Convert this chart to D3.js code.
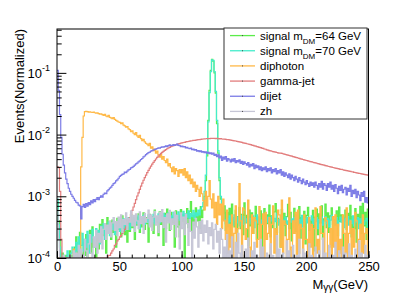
<!DOCTYPE html>
<html>
<head>
<meta charset="utf-8">
<script src="https://cdn.jsdelivr.net/npm/d3@7"></script>
<style>
    body { margin: 0; background: #fff; }
    text { font-family: "Liberation Sans", Arial, Helvetica, sans-serif; fill: #000; }
</style>
</head>
<body>
<div id="chart"></div>
<script>
// bin contents in units of 1e-4, one value per 1 GeV bin from 0 to 250 GeV
const UNIT = 1e-4;
const binLow = d3.range(0, 250);
const xTicks = [0, 50, 100, 150, 200, 250];
const xMinor = d3.range(0, 251, 10);
const yDecades = [1e-4, 1e-3, 1e-2, 1e-1];
const yExponents = ["-4", "-3", "-2", "-1"];

const signal64 = [
    8, 4, 2, 0, 1.2, 0, 0, 1.1, 0, 0,
    1.3, 0, 1.1, 0, 1.5, 2.2, 0, 1.4, 2.6, 1.2,
    0, 1.8, 1.1, 2.4, 0, 1.6, 2.8, 1.2, 3.2, 1.5,
    2.1, 0, 2.6, 1.4, 3.5, 1.8, 4.2, 2.3, 3.6, 1.2,
    4.5, 2.8, 3.8, 2.0, 4.1, 2.6, 3.3, 1.5, 4.4, 2.9,
    3.6, 2.2, 4.8, 3.0, 2.4, 4.2, 1.8, 3.9, 2.7, 5.0,
    3.1, 4.3, 2.0, 4.6, 3.4, 5.2, 2.6, 4.0, 3.2, 5.4,
    2.9, 4.5, 3.6, 1.8, 5.1, 3.3, 4.7, 2.5, 6.0, 3.8,
    4.4, 2.3, 5.6, 3.5, 4.9, 1.6, 5.3, 3.0, 6.2, 4.1,
    2.8, 5.5, 3.7, 4.6, 1.5, 5.8, 3.2, 4.8, 2.2, 6.1,
    3.9, 5.0, 0.9, 4.4, 6.3, 3.1, 5.7, 8.2, 2.6, 4.9,
    3.4, 6.5, 4.0, 5.2, 3.0, 6.8, 4.5, 6, 10, 18,
    45, 170, 520, 1100, 1650, 1550, 1000, 470, 150, 50,
    18, 9, 6, 4.2, 7.0, 2.8, 5.5, 3.6, 6.4, 2.1,
    7.5, 4.0, 3.2, 5.9, 1.8, 4.7, 6.6, 3.0, 5.1, 2.4,
    7.8, 3.7, 4.9, 1.6, 6.0, 3.3, 5.4, 2.5, 4.3, 6.9,
    2.0, 4.6, 3.5, 5.8, 1.4, 4.2, 6.3, 2.9, 5.0, 3.6,
    7.2, 2.2, 4.8, 3.1, 5.6, 7.6, 2.6, 4.4, 3.8, 1.5,
    6.1, 3.4, 5.3, 2.3, 4.7, 7.4, 3.0, 5.5, 1.9, 4.1,
    6.4, 2.7, 5.0, 3.5, 6.8, 2.1, 4.5, 3.2, 5.7, 1.7,
    4.9, 6.6, 2.8, 4.0, 3.3, 5.9, 1.3, 4.6, 6.2, 2.4,
    5.2, 3.7, 7.0, 2.0, 4.3, 7.5, 3.1, 5.4, 2.6, 4.8,
    6.5, 1.6, 4.0, 3.4, 5.8, 2.3, 6.7, 3.9, 5.0, 1.4,
    4.4, 6.0, 2.9, 5.3, 3.6, 7.1, 2.2, 4.7, 3.0, 6.3,
    1.8, 5.1, 3.8, 6.9, 2.5, 7.7, 3.3, 5.5, 2.0, 6.2
];

const signal70 = [
    9, 3.5, 1.5, 0, 0, 1.1, 0, 0, 1.3, 0,
    0, 1.2, 1.5, 0, 1.1, 1.8, 1.3, 2.2, 1.0, 1.6,
    2.5, 1.3, 2.0, 1.5, 2.7, 1.2, 2.3, 1.8, 2.9, 2.1,
    1.5, 3.0, 2.2, 2.8, 1.7, 3.3, 2.5, 3.6, 2.0, 3.1,
    2.6, 3.8, 2.3, 3.4, 2.9, 4.0, 2.4, 3.5, 3.0, 4.2,
    2.7, 3.7, 3.1, 4.3, 2.8, 3.9, 3.3, 4.5, 2.9, 4.0,
    3.4, 4.6, 3.2, 4.1, 3.6, 4.8, 3.0, 4.4, 3.7, 4.9,
    3.5, 4.3, 3.8, 5.0, 3.4, 4.6, 3.9, 5.1, 3.6, 4.7,
    4.0, 5.2, 3.7, 4.5, 4.1, 5.3, 3.8, 4.9, 4.2, 5.4,
    3.9, 4.8, 4.3, 5.5, 4.0, 5.0, 4.4, 5.6, 4.1, 5.1,
    4.5, 5.7, 4.2, 5.2, 4.6, 5.8, 4.3, 5.3, 4.7, 5.9,
    4.4, 5.4, 4.8, 6.0, 5.0, 6.2, 6.8, 8, 12, 22,
    50, 160, 480, 1050, 1620, 1600, 1050, 500, 170, 55,
    20, 10, 6.5, 5.0, 4.2, 3.6, 4.4, 3.2, 4.8, 3.9,
    4.5, 3.4, 5.0, 4.1, 3.7, 4.6, 3.3, 4.9, 4.0, 3.5,
    4.7, 3.8, 4.3, 5.1, 3.6, 4.4, 3.9, 4.8, 3.1, 4.2,
    5.0, 3.7, 4.5, 3.3, 4.1, 4.9, 3.5, 4.3, 3.8, 4.6,
    3.2, 4.0, 4.7, 3.6, 4.4, 3.9, 5.2, 3.4, 4.2, 3.7,
    4.8, 3.3, 4.1, 4.6, 3.5, 4.0, 5.0, 3.8, 4.3, 3.1,
    4.5, 3.9, 4.7, 3.4, 4.2, 3.6, 4.9, 3.2, 4.0, 4.4,
    3.7, 4.6, 3.3, 4.1, 4.8, 3.5, 4.3, 3.9, 4.5, 3.0,
    4.2, 3.8, 4.6, 3.4, 4.0, 4.7, 3.6, 4.4, 3.2, 4.1,
    4.9, 3.5, 4.2, 3.7, 4.5, 3.3, 4.0, 4.6, 3.8, 4.3,
    3.1, 4.4, 3.9, 4.7, 3.4, 4.1, 3.6, 4.8, 3.3, 4.2,
    3.8, 4.5, 3.0, 4.3, 3.7, 4.6, 3.5, 4.0, 4.4, 3.2
];

const diphoton = [
    0, 0, 0, 0, 0, 0, 0, 0, 0, 0,
    0, 0, 0, 1.4, 0, 0, 0, 0, 0.6, 30,
    90, 200, 235, 238, 236, 232, 234, 230, 228, 231,
    226, 222, 225, 218, 214, 216, 210, 205, 212, 200,
    196, 205, 190, 186, 182, 188, 176, 170, 165, 160,
    158, 150, 155, 142, 138, 132, 135, 124, 120, 112,
    115, 105, 100, 108, 95, 90, 97, 86, 80, 84,
    76, 72, 70, 66, 72, 60, 63, 55, 58, 50,
    54, 47, 43, 48, 40, 44, 38, 35, 40, 31,
    34, 29, 25, 30, 23, 28, 26, 21, 27, 24,
    27, 22, 28, 20, 25, 18, 22, 16, 19, 14,
    17, 12, 15, 13, 10, 14, 11, 8.5, 6, 12,
    7, 10, 18, 9, 6.5, 11, 4.5, 8, 3.5, 10,
    5, 7.5, 3, 9, 4, 2, 6, 1.2, 3.5, 1.5,
    5, 0, 2.5, 7, 1.5, 3, 16, 4, 0, 6.5,
    6, 2, 3, 8.7, 1.5, 0, 5, 2.5, 4.5, 4,
    1.5, 2, 6.8, 0, 3.5, 5.2, 0, 5.5, 2, 2.5,
    4.5, 0, 3.5, 7, 1.2, 3, 0, 6, 5, 1.5,
    8.7, 1.2, 4, 3.5, 0, 2, 9.4, 0, 1.5, 4,
    2.5, 5.5, 0, 6, 1.2, 3.5, 3, 0, 5, 2,
    2, 0, 4.5, 1.5, 3.5, 0, 3, 6.5, 1.2, 2,
    0, 6.8, 2.5, 2.5, 0, 4.5, 4, 0, 1.5, 3,
    0, 4.7, 1.5, 5, 0, 3.5, 1.2, 2, 0, 5,
    2.5, 1.2, 6.5, 0, 2.5, 4, 0, 3, 1.5, 5.5,
    4, 0, 2, 3.5, 0, 5, 1.2, 2.5, 3, 0
];

const gammaJet = [
    30, 29, 12, 2, 0, 0, 0, 0, 0, 0,
    0, 0, 0, 0, 0, 0, 0, 0, 0, 0,
    0, 0, 0, 0, 0, 0, 0, 0, 0, 0.5,
    0.5, 0.6, 0.6, 0.7, 0.7, 0.8, 0.8, 0.9, 0.9, 1.0,
    1.0, 1.1, 1.1, 1.2, 1.3, 1.4, 1.6, 1.7, 1.9, 2.0,
    2.2, 2.3, 2.5, 2.7, 2.9, 3.2, 3.6, 4.0, 4.5, 5.1,
    5.9, 6.7, 7.7, 8.8, 10.1, 11.4, 12.9, 14.6, 16.3, 18.2,
    20.1, 22.0, 24.2, 26.3, 28.6, 30.8, 33.1, 35.5, 37.9, 40.2,
    42.6, 44.8, 47.1, 49.5, 51.4, 53.6, 55.5, 57.1, 58.9, 60.6,
    62.0, 63.6, 64.8, 66.1, 67.5, 68.6, 69.4, 70.8, 71.6, 72.5,
    73.6, 74.4, 75.0, 75.9, 76.8, 77.2, 78.1, 78.9, 79.4, 80.3,
    80.8, 81.6, 82.0, 82.7, 83.1, 83.9, 84.2, 84.8, 85.0, 85.6,
    85.8, 86.3, 86.0, 86.7, 86.4, 87.0, 86.6, 86.2, 86.8, 85.9,
    85.5, 85.9, 84.8, 84.2, 84.6, 83.5, 82.8, 83.1, 81.9, 81.2,
    80.6, 79.9, 79.2, 78.7, 77.6, 77.1, 76.2, 75.4, 74.8, 73.6,
    72.9, 72.1, 71.0, 70.4, 69.2, 68.7, 67.5, 66.9, 65.6, 64.8,
    63.9, 63.2, 62.1, 61.3, 60.2, 59.6, 58.4, 57.9, 56.7, 55.8,
    55.1, 54.4, 53.7, 53.0, 52.4, 51.8, 51.2, 50.7, 50.1, 49.9,
    49.5, 48.9, 48.2, 47.6, 47.0, 46.3, 45.8, 45.1, 44.6, 44.0,
    43.4, 42.8, 42.3, 41.7, 41.2, 40.5, 40.1, 39.5, 39.0, 38.4,
    38.0, 37.4, 37.0, 36.5, 36.1, 35.6, 35.2, 34.7, 34.3, 33.9,
    33.5, 33.0, 32.7, 32.2, 31.9, 31.4, 31.1, 30.7, 30.4, 30.0,
    29.7, 29.3, 29.0, 28.7, 28.4, 28.1, 27.8, 27.4, 27.2, 26.9,
    26.6, 26.3, 26.1, 25.8, 25.5, 25.3, 25.0, 24.8, 24.5, 24.3,
    24.0, 23.8, 23.6, 23.4, 23.1, 22.9, 22.7, 22.5, 22.3, 22.1
];

const dijet = [
    1100, 520, 210, 90, 48, 32, 24, 19, 16, 13.5,
    12, 10.8, 10, 9.3, 8.6, 8.0, 7.8, 7.2, 7.0, 4.3,
    6.8, 7.4, 6.6, 7.6, 6.9, 7.9, 7.3, 8.4, 7.8, 8.8,
    8.2, 8.9, 9.5, 8.8, 9.6, 10.2, 9.7, 10.8, 11.3, 11.0,
    12.2, 12.8, 13.6, 14.1, 15.0, 16.0, 16.5, 17.8, 18.4, 19.6,
    21, 21.8, 22.6, 23.1, 24.6, 24.2, 25.6, 26.8, 27.4, 28.9,
    29.4, 30.6, 32, 33.4, 34.5, 36, 37.5, 39.5, 41, 43.5,
    45, 47.5, 49, 51, 52, 54, 55, 56, 57.5, 58,
    59.5, 61, 60, 62, 63.5, 62.5, 64, 65.5, 64, 66,
    68, 66, 67, 69, 66.5, 68, 70, 67, 66, 64,
    65, 63, 64, 61, 62, 60, 59, 60.5, 57, 58,
    56, 57, 54, 55, 53, 54.5, 52, 53, 51, 52.5,
    50, 51.5, 49, 50.5, 48, 50, 46, 48, 44, 47,
    42, 45, 38, 43, 40, 44, 37, 41, 39, 36,
    40, 37, 41, 35, 38, 36, 39, 34, 37, 33,
    36, 34, 32, 35, 30, 33, 31, 34, 28, 32,
    29, 31, 27, 30, 26, 29, 27, 30, 25, 28,
    26, 29, 24, 27, 25, 28, 23, 26, 24, 27,
    22, 25, 21, 24, 22, 20, 23, 19, 22, 20,
    18, 21, 19, 17, 20, 18, 16, 19, 17, 15.5,
    18, 16, 14.5, 17, 15, 16.5, 14, 17, 15, 13,
    16, 14, 17.5, 13, 16, 15, 12.5, 16, 14, 17,
    13, 15, 12, 15.5, 13.5, 11, 14.5, 12.5, 15, 11.5,
    13, 14, 10.5, 13.5, 12, 15, 10, 12.5, 11, 13,
    9.5, 12, 10.5, 8.5, 11.5, 10, 12, 8, 9.5, 7.8
];

const zh = [
    6, 2, 0, 0, 0, 1.1, 0, 0, 0, 0,
    1.1, 0, 0, 1.3, 0, 1.2, 0, 1.6, 0, 1.4,
    1.1, 0, 2.0, 1.3, 0, 1.7, 2.4, 1.2, 0, 2.2,
    1.5, 2.8, 1.2, 2.5, 1.8, 3.2, 1.4, 2.9, 3.6, 2.0,
    3.4, 2.5, 4.0, 2.2, 3.7, 4.5, 2.8, 3.9, 2.3, 4.6,
    3.1, 5.0, 2.6, 4.2, 3.5, 5.4, 2.9, 4.4, 3.8, 5.8,
    3.3, 4.9, 2.7, 5.2, 4.0, 3.0, 5.6, 3.6, 4.7, 2.5,
    5.3, 3.8, 4.4, 6.0, 3.2, 5.0, 2.8, 4.6, 5.7, 3.4,
    4.8, 2.6, 5.5, 3.9, 6.1, 3.1, 4.5, 1.8, 5.2, 3.7,
    5.9, 2.9, 4.3, 3.5, 5.6, 2.2, 4.9, 3.3, 1.4, 5.4,
    3.0, 4.6, 2.4, 5.1, 3.6, 1.6, 4.2, 2.7, 0, 3.8,
    2.1, 4.4, 3.2, 1.5, 3.9, 2.5, 4.1, 1.9, 3.4, 2.6,
    4.0, 1.7, 3.1, 2.3, 3.7, 1.4, 2.9, 3.5, 1.8, 2.7,
    1.2, 3.0, 2.0, 0, 1.5, 0, 2.4, 0, 1.3, 0,
    2.2, 1.0, 0, 1.8, 0, 2.5, 1.2, 0, 1.6, 0,
    0, 1.4, 0, 2.1, 0, 0, 1.3, 0, 1.8, 0,
    1.1, 0, 0, 2.0, 0, 1.5, 0, 0, 1.2, 0,
    0, 1.7, 0, 1.1, 0, 0, 2.3, 0, 1.4, 0,
    0, 1.2, 0, 0, 1.9, 0, 1.3, 0, 0, 1.6,
    0, 0, 1.1, 0, 2.0, 0, 0, 1.4, 0, 1.2,
    0, 0, 1.7, 0, 1.1, 0, 0, 1.5, 0, 0,
    1.3, 0, 0, 2.1, 0, 1.2, 0, 0, 1.6, 0,
    0, 1.1, 0, 1.8, 0, 0, 1.3, 0, 0, 1.5,
    0, 1.2, 0, 0, 1.7, 0, 1.1, 0, 0, 1.4,
    0, 0, 1.9, 0, 1.2, 0, 0, 1.6, 0, 1.1
];

const seriesValues = [signal64, signal70, diphoton, gammaJet, dijet, zh];
const seriesColors = ["#5cec4a", "#45eccb", "#ffb947", "#e27c7c", "#7b7be6", "#c6c6d6"];

const width = 409, height = 300;
const frame = { left: 57, right: 368.5, top: 29, bottom: 258 };

const svg = d3.select("#chart")
    .append("svg")
    .attr("width", width)
    .attr("height", height);

const x = d3.scaleLinear().domain([0, 250]).range([frame.left, frame.right]);
const y = d3.scaleLog().domain([1e-4, 0.514]).range([frame.bottom, frame.top]);

svg.append("defs").append("clipPath").attr("id", "frameClip")
    .append("rect")
    .attr("x", frame.left).attr("y", frame.top)
    .attr("width", frame.right - frame.left)
    .attr("height", frame.bottom - frame.top);

// 直方图（阶梯线）
const line = d3.line()
    .x(d => x(d[0]))
    .y(d => y(Math.max(d[1] * UNIT, 1e-4)))
    .curve(d3.curveStepAfter);

const plot = svg.append("g").attr("clip-path", "url(#frameClip)");
seriesValues.forEach((vals, k) => {
    const pts = binLow.map((b, i) => [b, vals[i]]);
    pts.push([250, vals[vals.length - 1]]);
    plot.append("path")
        .datum(pts)
        .attr("fill", "none")
        .attr("stroke", seriesColors[k])
        .attr("stroke-width", 1.2)
        .attr("d", line);
});

// 坐标轴
const yMinor = [];
yDecades.forEach(d => {
    for (let m = 2; m <= 9; m++) if (d * m <= 0.514) yMinor.push(d * m);
});

svg.append("g")
    .attr("transform", `translate(${frame.left},0)`)
    .call(d3.axisLeft(y).tickValues(yMinor).tickSize(-4.7).tickFormat(""))
    .call(g => g.select(".domain").remove());
svg.append("g")
    .attr("transform", `translate(${frame.left},0)`)
    .call(d3.axisLeft(y).tickValues(yDecades).tickSize(-9.4).tickFormat(""))
    .call(g => g.select(".domain").remove());

svg.append("g")
    .attr("transform", `translate(0,${frame.bottom})`)
    .call(d3.axisBottom(x).tickValues(xMinor).tickSize(-3.4).tickFormat(""))
    .call(g => g.select(".domain").remove());
svg.append("g")
    .attr("transform", `translate(0,${frame.bottom})`)
    .call(d3.axisBottom(x).tickValues(xTicks).tickSize(-6.9).tickPadding(3.5))
    .call(g => g.select(".domain").remove())
    .call(g => g.selectAll("text")
        .attr("fill", "#000")
        .style("font-size", "13px")
        .style("font-family", "'Liberation Sans', Arial, sans-serif"));

svg.selectAll(".tick line").attr("stroke", "#000").attr("stroke-width", 1);

// y 轴标签 10^n
yDecades.forEach((d, i) => {
    const t = svg.append("text")
        .attr("x", 50)
        .attr("y", y(d) + 5)
        .attr("text-anchor", "end")
        .style("font-size", "13px");
    t.append("tspan").text("10");
    t.append("tspan").attr("dy", -6.5).style("font-size", "9px").text(yExponents[i]);
});

// 外框
svg.append("rect")
    .attr("x", frame.left).attr("y", frame.top)
    .attr("width", frame.right - frame.left)
    .attr("height", frame.bottom - frame.top)
    .attr("fill", "none")
    .attr("stroke", "#000")
    .attr("stroke-width", 1);

// 轴标题
const xt = svg.append("text")
    .attr("x", 368)
    .attr("y", 289)
    .attr("text-anchor", "end")
    .style("font-size", "13px");
xt.append("tspan").text("M");
xt.append("tspan").attr("dy", 2).style("font-size", "10px").text("γγ");
xt.append("tspan").attr("dy", -2).text("(GeV)");

svg.append("text")
    .attr("transform", "translate(23.5,29) rotate(-90)")
    .attr("text-anchor", "end")
    .style("font-size", "13px")
    .text("Events(Normalized)");

// 图例
const legendBox = { x0: 224, x1: 367, y0: 28, y1: 119 };
svg.append("rect")
    .attr("x", legendBox.x0).attr("y", legendBox.y0)
    .attr("width", legendBox.x1 - legendBox.x0)
    .attr("height", legendBox.y1 - legendBox.y0)
    .attr("fill", "#fff")
    .attr("stroke", "#333")
    .attr("stroke-width", 1);

const legendLabels = [
    ["signal m", "DM", "=64 GeV"],
    ["signal m", "DM", "=70 GeV"],
    ["diphoton"], ["gamma-jet"], ["dijet"], ["zh"]
];
const rowH = (legendBox.y1 - legendBox.y0) / legendLabels.length;
legendLabels.forEach((parts, i) => {
    const cy = legendBox.y0 + rowH * (i + 0.5);
    svg.append("line")
        .attr("x1", 230).attr("x2", 255)
        .attr("y1", cy).attr("y2", cy)
        .attr("stroke", seriesColors[i])
        .attr("stroke-width", 1.3);
    svg.append("rect")
        .attr("x", 242).attr("y", cy - 0.5)
        .attr("width", 1).attr("height", 1)
        .attr("fill", "#444");
    const t = svg.append("text")
        .attr("x", 260)
        .attr("y", cy + 4)
        .style("font-size", "11.5px");
    t.append("tspan").text(parts[0]);
    if (parts.length > 1) {
        t.append("tspan").attr("dy", 4).style("font-size", "8px").text(parts[1]);
        t.append("tspan").attr("dy", -4).text(parts[2]);
    }
});
</script>
</body>
</html>
